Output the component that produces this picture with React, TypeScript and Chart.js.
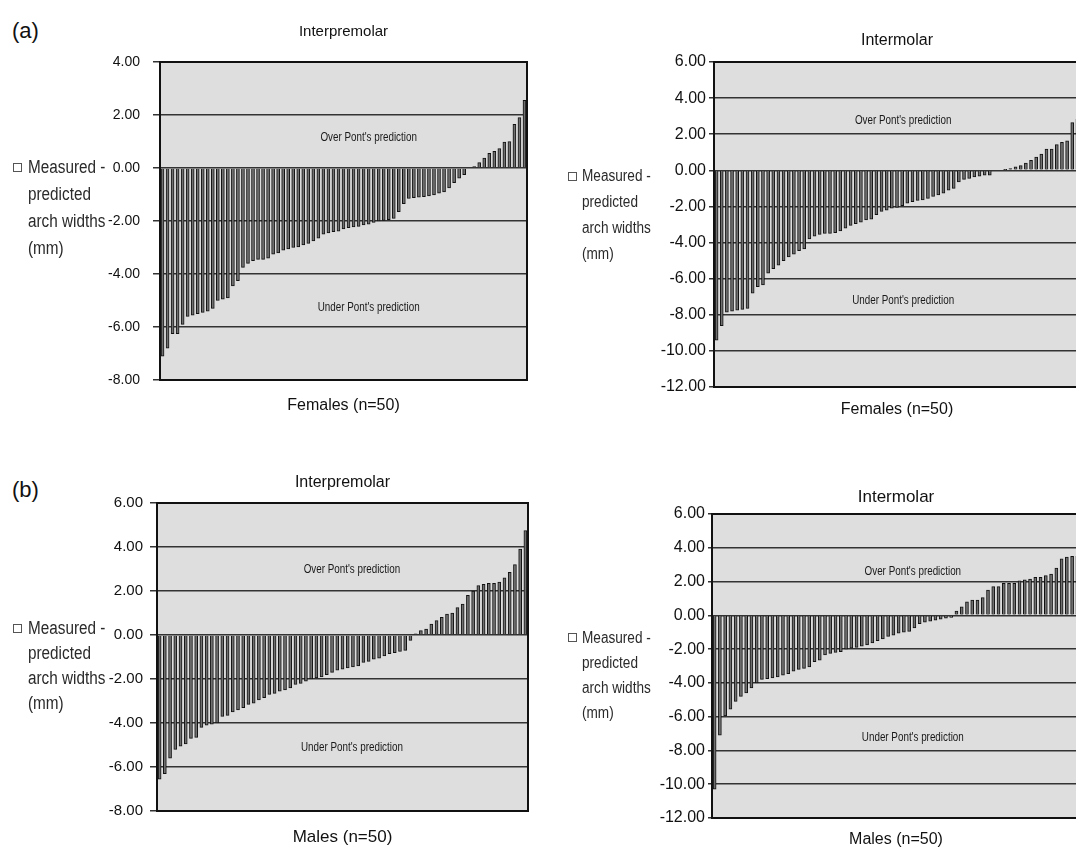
import React, { useEffect, useRef } from "react";
import { Chart, registerables } from "chart.js";

Chart.register(...registerables);

// ---------- DATA ----------
// Measured - predicted arch widths (mm), one value per subject, sorted
const femaleInterpremolar = [
  -7.1, -6.8, -6.25, -6.25, -5.9, -5.6, -5.55, -5.5, -5.45, -5.4,
  -5.3, -5.0, -4.95, -4.9, -4.45, -4.25, -3.75, -3.6, -3.5, -3.45,
  -3.45, -3.4, -3.25, -3.2, -3.1, -3.05, -3.0, -2.98, -2.9, -2.85,
  -2.75, -2.65, -2.5, -2.45, -2.4, -2.38, -2.3, -2.25, -2.22, -2.2,
  -2.15, -2.12, -2.05, -2.0, -1.98, -1.95, -1.9, -1.65, -1.35, -1.15,
  -1.12, -1.1, -1.08, -1.05, -1.02, -0.95, -0.9, -0.75, -0.55, -0.38,
  -0.25, 0, 0.05, 0.2, 0.37, 0.55, 0.63, 0.73, 0.98, 1.0,
  1.65, 1.9, 2.55,
];
const femaleIntermolar = [
  -9.4, -8.6, -7.85, -7.8, -7.75, -7.7, -7.65, -6.8, -6.45, -6.35,
  -5.7, -5.45, -5.25, -5.0, -4.8, -4.65, -4.45, -4.35, -3.8, -3.65,
  -3.55, -3.5, -3.5, -3.45, -3.35, -3.2, -3.05, -2.95, -2.87, -2.75,
  -2.7, -2.45, -2.27, -2.2, -2.1, -2.05, -1.96, -1.82, -1.73, -1.67,
  -1.64, -1.55, -1.45, -1.36, -1.27, -1.1, -1.0, -0.64, -0.5, -0.45,
  -0.36, -0.33, -0.27, -0.27, 0, 0, 0.05, 0.1, 0.2, 0.27,
  0.4, 0.55, 0.73, 0.9, 1.18, 1.18, 1.42, 1.55, 1.64, 2.64, 2.82,
];
const maleInterpremolar = [
  -6.55, -6.3, -5.6, -5.2, -5.05, -4.95, -4.7, -4.65, -4.2, -4.1,
  -4.05, -4.0, -3.7, -3.65, -3.5, -3.4, -3.3, -3.15, -3.1, -2.95,
  -2.85, -2.7, -2.65, -2.55, -2.5, -2.4, -2.25, -2.2, -2.1, -2.0,
  -1.95, -1.9, -1.8, -1.7, -1.6, -1.55, -1.5, -1.45, -1.4, -1.25,
  -1.2, -1.1, -1.05, -0.95, -0.85, -0.8, -0.75, -0.7, -0.25, 0.05,
  0.2, 0.27, 0.5, 0.65, 0.8, 0.95, 1.0, 1.25, 1.4, 1.8,
  2.0, 2.25, 2.3, 2.35, 2.35, 2.4, 2.6, 2.85, 3.2, 3.9, 4.75,
];
const maleIntermolar = [
  -10.3, -7.1, -5.95, -5.55, -5.1, -4.8, -4.6, -4.3, -4.0, -3.8,
  -3.75, -3.7, -3.65, -3.55, -3.45, -3.3, -3.2, -3.15, -3.05, -2.75,
  -2.65, -2.35, -2.25, -2.2, -2.15, -2.0, -1.95, -1.9, -1.82, -1.75,
  -1.63, -1.5, -1.4, -1.25, -1.17, -1.05, -1.0, -0.95, -0.75, -0.5,
  -0.4, -0.35, -0.28, -0.22, -0.17, -0.12, 0.25, 0.5, 0.8, 0.9,
  0.9, 1.05, 1.5, 1.7, 1.7, 1.9, 1.9, 1.9, 2.05, 2.1,
  2.15, 2.25, 2.25, 2.35, 2.45, 2.8, 3.35, 3.45, 3.5, 3.5,
];

// tick values (labels shown with two decimals)
const femaleInterpremolarTicks = [4, 2, 0, -2, -4, -6, -8];
const maleInterpremolarTicks = [6, 4, 2, 0, -2, -4, -6, -8];
const intermolarTicks = [6, 4, 2, 0, -2, -4, -6, -8, -10, -12];

// annotation texts and the y-values where they sit
const noteTexts = ["Over Pont's prediction", "Under Pont's prediction"];
const femaleInterpremolarNotes = [1.13, -5.28];
const femaleIntermolarNotes = [2.76, -7.2];
const maleInterpremolarNotes = [2.95, -5.1];
const maleIntermolarNotes = [2.56, -7.26];

const legendLines = ["Measured -", "predicted", "arch widths", "(mm)"];
const seriesName = "Measured - predicted arch widths (mm)";

// ---------- STYLE ----------
const FONT = "'Liberation Sans', Arial, Helvetica, sans-serif";
const PLOT_BG = "#dedede";
const GRID = "#333333";
const BAR_FILL = "#707070";
const BAR_EDGE = "#111111";

const decorPlugin = {
  id: "decor",
  beforeDraw(chart: any) {
    const { ctx, chartArea: a } = chart;
    ctx.save();
    ctx.fillStyle = PLOT_BG;
    ctx.fillRect(a.left, a.top, a.right - a.left, a.bottom - a.top);
    ctx.restore();
  },
  afterDatasetsDraw(chart: any, _args: any, opts: any) {
    const { ctx } = chart;
    const x = chart.scales.x.getPixelForValue(opts.noteIndex);
    opts.notes.forEach((v: number, i: number) => {
      const y = chart.scales.y.getPixelForValue(v);
      ctx.save();
      ctx.translate(x, y);
      ctx.scale(0.82, 1);
      ctx.font = `12px ${FONT}`;
      ctx.fillStyle = "#1a1a1a";
      ctx.textAlign = "center";
      ctx.textBaseline = "middle";
      ctx.fillText(noteTexts[i], 0, 0);
      ctx.restore();
    });
  },
  afterDraw(chart: any) {
    const { ctx, chartArea: a } = chart;
    ctx.save();
    ctx.strokeStyle = "#111";
    ctx.lineWidth = 2;
    ctx.strokeRect(a.left, a.top, a.right - a.left, a.bottom - a.top);
    ctx.restore();
  },
};

type PanelCfg = {
  values: number[];
  ticks: number[];
  notes: number[];
  noteIndex: number;
  title: string;
  xTitle: string;
  left: number;
  top: number;
  w: number;
  h: number;
  yWidth: number;
  padRight: number;
  titleSize: number;
  titlePadTop: number;
  titlePadBottom: number;
  xHeight: number;
  xTitleSize: number;
  xTitlePadBottom: number;
  tickSize: number;
  tickLen: number;
  tickPad: number;
};

const PANELS: PanelCfg[] = [
  {
    values: femaleInterpremolar, ticks: femaleInterpremolarTicks, notes: femaleInterpremolarNotes, noteIndex: 41,
    title: "Interpremolar", xTitle: "Females (n=50)",
    left: 95, top: 10, w: 445, h: 415, yWidth: 65, padRight: 13,
    titleSize: 15, titlePadTop: 13, titlePadBottom: 21,
    xHeight: 45, xTitleSize: 16, xTitlePadBottom: 9.4,
    tickSize: 14, tickLen: 7, tickPad: 13,
  },
  {
    values: femaleIntermolar, ticks: intermolarTicks, notes: femaleIntermolarNotes, noteIndex: 36.2,
    title: "Intermolar", xTitle: "Females (n=50)",
    left: 650, top: 15, w: 440, h: 415, yWidth: 64, padRight: 10,
    titleSize: 16, titlePadTop: 16.4, titlePadBottom: 11.4,
    xHeight: 43, xTitleSize: 16, xTitlePadBottom: 10.4,
    tickSize: 16, tickLen: 5, tickPad: 3,
  },
  {
    values: maleInterpremolar, ticks: maleInterpremolarTicks, notes: maleInterpremolarNotes, noteIndex: 36.8,
    title: "Interpremolar", xTitle: "Males (n=50)",
    left: 95, top: 455, w: 445, h: 395, yWidth: 62, padRight: 12,
    titleSize: 16, titlePadTop: 18.4, titlePadBottom: 10.4,
    xHeight: 39, xTitleSize: 17, xTitlePadBottom: 2.8,
    tickSize: 15, tickLen: 7, tickPad: 7,
  },
  {
    values: maleIntermolar, ticks: intermolarTicks, notes: maleIntermolarNotes, noteIndex: 37.7,
    title: "Intermolar", xTitle: "Males (n=50)",
    left: 650, top: 470, w: 440, h: 384, yWidth: 62, padRight: 10,
    titleSize: 17, titlePadTop: 16.8, titlePadBottom: 6.8,
    xHeight: 36, xTitleSize: 16, xTitlePadBottom: 4.4,
    tickSize: 16, tickLen: 4, tickPad: 3,
  },
];

function Panel({ cfg }: { cfg: PanelCfg }) {
  const ref = useRef<HTMLCanvasElement>(null);
  useEffect(() => {
    const labels = cfg.values.map((_, i) => String(i + 1));
    const tickVals = [...cfg.ticks].sort((a, b) => a - b);
    const chart = new Chart(ref.current as HTMLCanvasElement, {
      type: "bar",
      data: {
        labels,
        datasets: [
          {
            label: seriesName,
            data: cfg.values,
            backgroundColor: BAR_FILL,
            borderColor: BAR_EDGE,
            borderWidth: 1,
            barThickness: 3,
          },
        ],
      },
      options: {
        responsive: false,
        animation: false,
        events: [],
        layout: { padding: { left: 0, right: cfg.padRight, top: 0, bottom: 0 } },
        plugins: {
          legend: { display: false },
          tooltip: { enabled: false },
          title: {
            display: true,
            text: cfg.title,
            fullSize: false,
            color: "#111",
            font: { family: FONT, size: cfg.titleSize, weight: "normal", lineHeight: 1.2 },
            padding: { top: cfg.titlePadTop, bottom: cfg.titlePadBottom },
          },
          decor: { notes: cfg.notes, noteIndex: cfg.noteIndex },
        } as any,
        scales: {
          x: {
            type: "category",
            offset: true,
            grid: { display: false },
            border: { display: false },
            ticks: { display: false },
            title: {
              display: true,
              text: cfg.xTitle,
              color: "#111",
              font: { family: FONT, size: cfg.xTitleSize, lineHeight: 1.2 },
              padding: { top: 0, bottom: cfg.xTitlePadBottom },
            },
            afterFit: (s: any) => {
              s.height = cfg.xHeight;
            },
          },
          y: {
            min: tickVals[0],
            max: tickVals[tickVals.length - 1],
            afterBuildTicks: (s: any) => {
              s.ticks = tickVals.map((v) => ({ value: v }));
            },
            grid: { color: GRID, lineWidth: 1.5, tickLength: cfg.tickLen, drawTicks: true },
            border: { display: false },
            ticks: {
              color: "#111",
              font: { family: FONT, size: cfg.tickSize },
              padding: cfg.tickPad,
              callback: (v: any) => Number(v).toFixed(2),
            },
            afterFit: (s: any) => {
              s.width = cfg.yWidth;
            },
          },
        } as any,
      },
      plugins: [decorPlugin as any],
    });
    return () => chart.destroy();
  }, [cfg]);
  return (
    <canvas
      ref={ref}
      width={cfg.w}
      height={cfg.h}
      style={{ position: "absolute", left: cfg.left, top: cfg.top, width: cfg.w, height: cfg.h }}
    />
  );
}

type LegendCfg = { boxX: number; textX: number; firstY: number; lineH: number; size: number };

const LEGENDS: LegendCfg[] = [
  { boxX: 13, textX: 28, firstY: 167, lineH: 27, size: 18 },
  { boxX: 568, textX: 582, firstY: 176, lineH: 26, size: 16 },
  { boxX: 13, textX: 28, firstY: 628, lineH: 25, size: 18 },
  { boxX: 568, textX: 582, firstY: 637, lineH: 25, size: 16 },
];

function Legend({ cfg }: { cfg: LegendCfg }) {
  return (
    <>
      <span
        style={{
          position: "absolute",
          left: cfg.boxX,
          top: cfg.firstY - 4,
          width: 7,
          height: 7,
          border: "1px solid #555",
          background: "#fff",
        }}
      />
      {legendLines.map((t, i) => (
        <div
          key={i}
          style={{
            position: "absolute",
            left: cfg.textX,
            top: cfg.firstY + i * cfg.lineH - cfg.lineH / 2,
            height: cfg.lineH,
            lineHeight: `${cfg.lineH}px`,
            fontFamily: FONT,
            fontSize: cfg.size,
            color: "#2a2a2a",
            whiteSpace: "nowrap",
            transform: "scaleX(0.85)",
            transformOrigin: "left center",
          }}
        >
          {t}
        </div>
      ))}
    </>
  );
}

const panelLetters = [
  { text: "(a)", y: 31 },
  { text: "(b)", y: 490 },
];

export default function App() {
  return (
    <div
      style={{
        position: "absolute",
        left: 0,
        top: 0,
        width: 1076,
        height: 854,
        overflow: "hidden",
        background: "#fff",
      }}
    >
      {panelLetters.map((p) => (
        <div
          key={p.text}
          style={{
            position: "absolute",
            left: 12,
            top: p.y - 14,
            height: 28,
            lineHeight: "28px",
            fontFamily: FONT,
            fontSize: 22,
            color: "#111",
          }}
        >
          {p.text}
        </div>
      ))}
      {PANELS.map((p, i) => (
        <Panel key={i} cfg={p} />
      ))}
      {LEGENDS.map((l, i) => (
        <Legend key={i} cfg={l} />
      ))}
    </div>
  );
}
